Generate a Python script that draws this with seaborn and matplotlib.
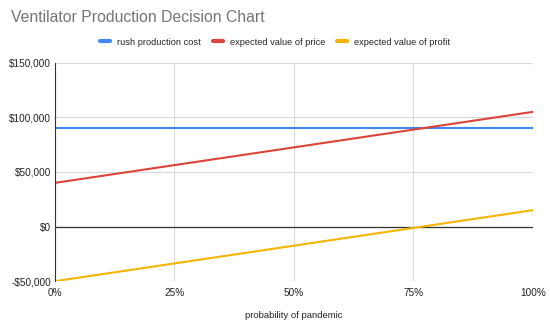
import matplotlib
matplotlib.use("Agg")
import matplotlib.pyplot as plt
import matplotlib.ticker as mticker
import seaborn as sns
import pandas as pd

probability = [0.0, 0.25, 0.5, 0.75, 1.0]
rush_cost = [90000, 90000, 90000, 90000, 90000]
price_ev = [40000, 56250, 72500, 88750, 105000]
profit_ev = [-50000, -33750, -17500, -1250, 15000]
series_names = ["rush production cost", "expected value of price", "expected value of profit"]
colors = ["#4285F4", "#DB4437", "#F4B400"]
x_ticks = [0, 0.25, 0.5, 0.75, 1.0]
y_ticks = [-50000, 0, 50000, 100000, 150000]

sns.set_theme(style="white")
plt.rcParams['font.family'] = ['Liberation Sans', 'DejaVu Sans']

df = pd.DataFrame({"p": probability * 3,
                   "v": rush_cost + price_ev + profit_ev,
                   "s": [series_names[0]] * 5 + [series_names[1]] * 5 + [series_names[2]] * 5})

fig = plt.figure(figsize=(5.5, 3.3), dpi=100)
ax = fig.add_axes([0.1, 0.148, 0.869, 0.662])
sns.lineplot(data=df, x="p", y="v", hue="s", palette=colors, linewidth=1.5, ax=ax, legend=False)

ax.set_xlim(0, 1)
ax.set_ylim(-50000, 150000)
ax.set_xticks(x_ticks)
ax.set_yticks(y_ticks)
ax.xaxis.set_major_formatter(mticker.FuncFormatter(lambda v, p: f"{int(round(v*100))}%"))
ax.yaxis.set_major_formatter(mticker.FuncFormatter(lambda v, p: ("-$" if v < 0 else "$") + f"{abs(int(v)):,}"))
ax.grid(True, color="#d9d9d9", linewidth=0.8)
ax.axhline(0, color="#333333", linewidth=0.9, zorder=1)
for s in ["top", "right", "bottom"]:
    ax.spines[s].set_visible(False)
ax.spines["left"].set_color("#333333")
ax.spines["left"].set_linewidth(0.8)
ax.tick_params(axis="y", length=0, labelsize=7.2, colors="#222222", pad=3)
ax.tick_params(axis="x", length=0, labelsize=7.2, colors="#222222", pad=5)
ax.set_xlabel("probability of pandemic", fontsize=6.8, color="#222222", labelpad=9)
ax.set_ylabel("")

fig.text(0.02, 0.947, "Ventilator Production Decision Chart", fontsize=11.3, color="#757575", va="center")

from matplotlib.lines import Line2D
handles = [Line2D([0], [0], color=c, linewidth=3) for c in colors]
fig.legend(handles, series_names, loc="center", bbox_to_anchor=(0.5, 0.872), ncol=3, frameon=False,
           fontsize=6.7, handlelength=1.1, columnspacing=1.3, handletextpad=0.7)

fig.savefig("out.png", dpi=100)
